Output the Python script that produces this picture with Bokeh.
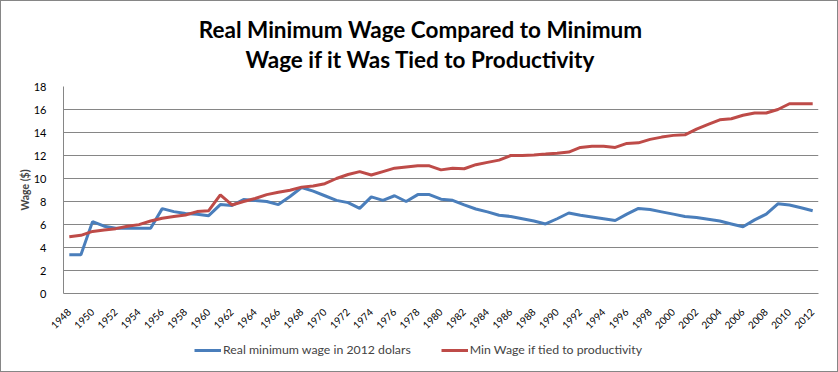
import math
from bokeh.plotting import figure
from bokeh.layouts import column
from bokeh.models import Range1d, FixedTicker, Label, Legend, LegendItem, ColumnDataSource
from bokeh.embed import file_html
from bokeh.resources import INLINE

years = list(range(1948, 2013))
real_wage = [3.37, 3.37, 6.25, 5.85, 5.67, 5.67, 5.67, 5.67, 7.38, 7.12,
             6.95, 6.90, 6.77, 7.73, 7.65, 8.17, 8.08, 8.00, 7.73, 8.43,
             9.22, 8.90, 8.50, 8.10, 7.90, 7.40, 8.40, 8.10, 8.50, 8.00,
             8.60, 8.60, 8.20, 8.10, 7.70, 7.35, 7.10, 6.80, 6.70, 6.50,
             6.30, 6.05, 6.50, 7.00, 6.80, 6.65, 6.50, 6.35, 6.90, 7.40,
             7.30, 7.10, 6.90, 6.70, 6.60, 6.45, 6.30, 6.05, 5.80, 6.40,
             6.90, 7.80, 7.70, 7.45, 7.20]
tied_wage = [4.94, 5.06, 5.40, 5.52, 5.64, 5.84, 5.99, 6.30, 6.54, 6.69,
             6.83, 7.12, 7.20, 8.58, 7.70, 8.00, 8.26, 8.60, 8.80, 8.98,
             9.25, 9.35, 9.55, 10.00, 10.35, 10.60, 10.30, 10.60, 10.90, 11.00,
             11.10, 11.10, 10.75, 10.90, 10.85, 11.20, 11.40, 11.60, 12.00, 12.00,
             12.05, 12.12, 12.20, 12.30, 12.70, 12.80, 12.80, 12.70, 13.05, 13.10,
             13.40, 13.60, 13.75, 13.80, 14.30, 14.70, 15.10, 15.20, 15.50, 15.70,
             15.70, 16.00, 16.50, 16.50, 16.50]
tick_years = list(range(1948, 2013, 2))
tick_labels = [str(y) for y in tick_years]
y_ticks = [0, 2, 4, 6, 8, 10, 12, 14, 16, 18]

title_line1 = "Real Minimum Wage Compared to Minimum"
title_line2 = "Wage if it Was Tied to Productivity"
series_names = ["Real minimum wage in 2012 dolars", "Min Wage if tied to productivity"]
series_colors = ["#4A7EBB", "#BE4B48"]

FONT = "Lato"
GRID = "#868686"
W = 836
TITLE_H = 77
MAIN_H = 259
LEG_H = 34
FRAME_L, FRAME_R = 62, 817   # frame edges in page pixels (frames are aligned by column)

# ---- title strip ----
tf = figure(width=W, height=TITLE_H, output_backend="svg", toolbar_location=None,
            x_range=Range1d(FRAME_L, FRAME_R), y_range=Range1d(0, TITLE_H),
            min_border_left=0, min_border_right=0, min_border_top=0, min_border_bottom=0)
tf.axis.visible = False
tf.grid.visible = False
tf.outline_line_color = None
for txt, ypos in ((title_line1, TITLE_H - 28), (title_line2, TITLE_H - 58)):
    tf.add_layout(Label(x=419, y=ypos, text=txt, text_align="center", text_baseline="middle",
                        text_font=FONT, text_font_size="22.5px", text_font_style="bold",
                        text_color="black"))

# ---- main chart ----
src = ColumnDataSource(dict(year=years, real=real_wage, tied=tied_wage))

p = figure(width=W, height=MAIN_H, output_backend="svg", toolbar_location=None,
           x_range=Range1d(years[0] - 0.5, years[-1] + 0.5), y_range=Range1d(0, 18),
           min_border_left=FRAME_L, min_border_right=W - FRAME_R, min_border_top=8,
           min_border_bottom=44)
p.outline_line_color = None
p.background_fill_color = "white"
p.border_fill_color = "white"

r1 = p.line("year", "real", source=src, line_color=series_colors[0], line_width=3)
r2 = p.line("year", "tied", source=src, line_color=series_colors[1], line_width=3)

p.yaxis.ticker = FixedTicker(ticks=y_ticks)
p.yaxis.axis_label = "Wage ($)"
p.yaxis.axis_label_text_font = FONT
p.yaxis.axis_label_text_font_size = "10.5px"
p.yaxis.axis_label_text_font_style = "bold"
p.yaxis.axis_label_standoff = 0
p.yaxis.major_label_text_font = FONT
p.yaxis.major_label_text_font_size = "11px"
p.yaxis.major_label_text_color = "black"
p.yaxis.axis_line_color = GRID
p.yaxis.major_tick_line_color = None
p.yaxis.minor_tick_line_color = None
p.yaxis.major_label_standoff = 11

p.xaxis.ticker = FixedTicker(ticks=tick_years)
p.xaxis.major_label_overrides = {y: lab for y, lab in zip(tick_years, tick_labels)}
p.xaxis.major_label_orientation = math.pi / 4
p.xaxis.major_label_text_font = FONT
p.xaxis.major_label_text_font_size = "10px"
p.xaxis.major_label_text_color = "black"
p.xaxis.axis_line_color = GRID
p.xaxis.major_tick_line_color = None
p.xaxis.minor_tick_line_color = None
p.xaxis.major_label_standoff = 11

p.xgrid.grid_line_color = None
p.ygrid.grid_line_color = GRID
p.ygrid.ticker = FixedTicker(ticks=y_ticks)

# ---- legend strip ----
lg = figure(width=W, height=LEG_H, output_backend="svg", toolbar_location=None,
            x_range=Range1d(0, 1), y_range=Range1d(0, 1),
            min_border_left=0, min_border_right=0, min_border_top=0, min_border_bottom=0)
lg.axis.visible = False
lg.grid.visible = False
lg.outline_line_color = None
nan = float("nan")
d1 = lg.line(x=[nan], y=[nan], line_color=series_colors[0], line_width=3)
d2 = lg.line(x=[nan], y=[nan], line_color=series_colors[1], line_width=3)
legend = Legend(items=[LegendItem(label=series_names[0], renderers=[d1]),
                       LegendItem(label=series_names[1], renderers=[d2])],
                orientation="horizontal", location=(193 - FRAME_L, 14),
                label_text_font=FONT, label_text_font_size="12.3px",
                glyph_width=27, glyph_height=10, spacing=30, label_standoff=2,
                border_line_color=None, background_fill_alpha=0, padding=2, margin=0)
lg.add_layout(legend, "center")

layout = column(tf, p, lg, spacing=0, styles={"border": "1px solid #868686"})
open("out.html", "w").write(file_html(layout, INLINE))
